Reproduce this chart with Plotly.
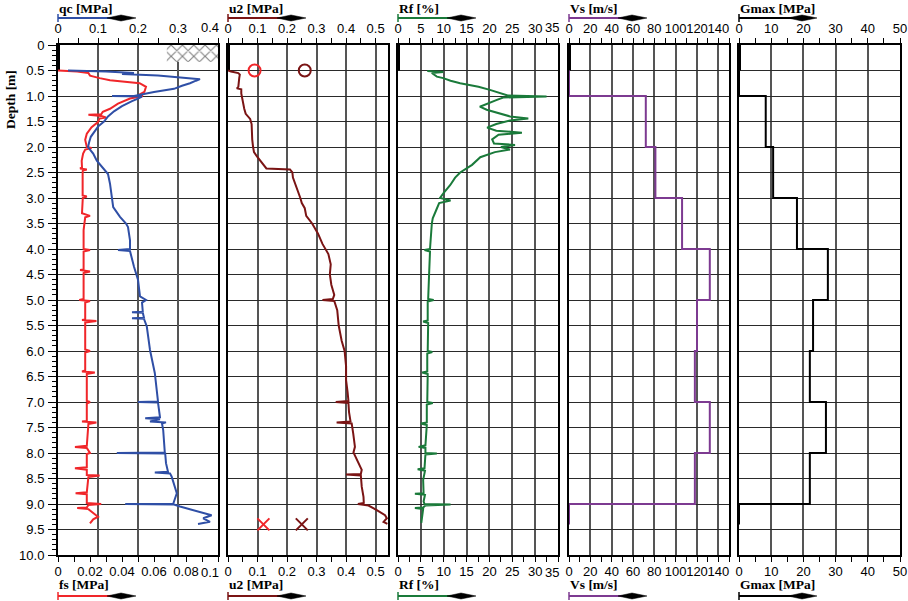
import plotly.graph_objects as go

W, H = 908, 601

# ---------------- data ----------------
qc_depth = [0.50, 0.52, 0.55, 0.57, 0.60, 0.64, 0.67, 0.70, 0.75, 0.80, 0.86, 0.92, 0.97, 1.00, 1.00, 1.01,
            1.05, 1.10, 1.20, 1.30, 1.40, 1.45, 1.50, 1.60, 1.70, 1.80, 1.90, 2.00, 2.05, 2.13, 2.27, 2.40,
            2.53, 2.72, 2.98, 3.18, 3.37, 3.50, 3.57, 3.83, 4.00, 4.02, 4.04, 4.20, 4.35, 4.60, 4.93, 5.00,
            5.05, 5.23, 5.24, 5.25, 5.35, 5.36, 5.37, 5.52, 5.98, 6.43, 6.76, 6.99, 7.00, 7.01, 7.30, 7.32,
            7.34, 7.38, 7.40, 7.42, 7.55, 7.88, 7.99, 8.00, 8.01, 8.20, 8.37, 8.38, 8.40, 8.46, 8.79, 8.95,
            9.00, 9.00, 9.01, 9.05, 9.10, 9.15, 9.22, 9.28, 9.35, 9.39]
qc_mpa = [0.025, 0.12, 0.19, 0.16, 0.25, 0.32, 0.355, 0.345, 0.33, 0.31, 0.29, 0.24, 0.205, 0.19, 0.135, 0.21,
          0.20, 0.185, 0.16, 0.14, 0.125, 0.12, 0.115, 0.10, 0.09, 0.082, 0.078, 0.075, 0.08, 0.088, 0.097, 0.11,
          0.125, 0.13, 0.135, 0.138, 0.155, 0.17, 0.175, 0.18, 0.18, 0.15, 0.18, 0.185, 0.19, 0.20, 0.205, 0.22,
          0.21, 0.212, 0.185, 0.212, 0.215, 0.185, 0.215, 0.222, 0.23, 0.242, 0.247, 0.25, 0.20, 0.25, 0.255, 0.218,
          0.255, 0.23, 0.27, 0.26, 0.263, 0.267, 0.267, 0.147, 0.268, 0.27, 0.275, 0.242, 0.28, 0.284, 0.297, 0.29,
          0.288, 0.168, 0.29, 0.305, 0.33, 0.355, 0.384, 0.363, 0.38, 0.35]

fs_depth = [0.50, 0.52, 0.55, 0.60, 0.65, 0.69, 0.75, 0.82, 0.92, 0.97, 1.00, 1.02, 1.05, 1.15, 1.25, 1.31,
            1.36, 1.37, 1.39, 1.42, 1.44, 1.51, 1.61, 1.74, 1.86, 2.00, 2.02, 2.05, 2.13, 2.27, 2.40, 2.42,
            2.44, 2.46, 2.53, 2.95, 2.97, 3.00, 3.30, 3.35, 3.38, 3.63, 4.00, 4.02, 4.05, 4.40, 4.41, 4.44,
            4.47, 4.98, 5.00, 5.02, 5.05, 5.38, 5.39, 5.41, 5.44, 5.97, 6.00, 6.03, 6.38, 6.40, 6.42, 6.45,
            6.98, 7.00, 7.03, 7.37, 7.38, 7.40, 7.43, 7.86, 7.88, 7.90, 8.00, 8.02, 8.28, 8.30, 8.33, 8.43,
            8.44, 8.47, 8.77, 8.79, 8.81, 8.98, 9.00, 9.02, 9.07, 9.08, 9.10, 9.25, 9.30, 9.38]
fs_mpa = [0.0, 0.012, 0.019, 0.020, 0.026, 0.0325, 0.051, 0.055, 0.054, 0.051, 0.053, 0.049, 0.045, 0.0375, 0.0325, 0.028,
          0.027, 0.019, 0.027, 0.030, 0.026, 0.025, 0.021, 0.018, 0.017, 0.018, 0.021, 0.017, 0.0157, 0.0148, 0.015, 0.0138,
          0.018, 0.0155, 0.0154, 0.0154, 0.018, 0.0155, 0.015, 0.020, 0.017, 0.016, 0.016, 0.020, 0.016, 0.016, 0.0138, 0.020,
          0.016, 0.016, 0.0133, 0.020, 0.017, 0.017, 0.015, 0.024, 0.017, 0.017, 0.020, 0.017, 0.017, 0.015, 0.023, 0.018,
          0.018, 0.020, 0.018, 0.018, 0.015, 0.024, 0.019, 0.018, 0.0106, 0.018, 0.020, 0.018, 0.018, 0.0106, 0.018, 0.018,
          0.026, 0.019, 0.018, 0.011, 0.018, 0.018, 0.027, 0.019, 0.018, 0.012, 0.019, 0.025, 0.022, 0.020]

u2_depth = [0.50, 0.52, 0.55, 0.58, 0.65, 0.75, 0.82, 0.85, 0.87, 0.95, 1.05, 1.15, 1.25, 1.35, 1.45, 1.55,
            1.70, 1.85, 2.00, 2.10, 2.20, 2.30, 2.38, 2.42, 2.44, 2.50, 2.60, 2.75, 2.90, 3.00, 3.10, 3.20,
            3.35, 3.50, 3.70, 3.90, 4.10, 4.30, 4.50, 4.70, 4.90, 4.98, 5.00, 5.02, 5.20, 5.50, 5.80, 6.00,
            6.30, 6.57, 6.80, 6.98, 7.00, 7.02, 7.20, 7.38, 7.40, 7.42, 7.61, 7.88, 7.99, 8.20, 8.33, 8.41,
            8.42, 8.44, 8.66, 8.86, 8.98, 9.00, 9.03, 9.12, 9.22, 9.28, 9.35, 9.39]
u2_mpa = [0.0, 0.01, 0.035, 0.04, 0.038, 0.036, 0.035, 0.03, 0.045, 0.045, 0.048, 0.05, 0.055, 0.06, 0.075, 0.08,
          0.08, 0.082, 0.085, 0.088, 0.10, 0.115, 0.125, 0.13, 0.21, 0.218, 0.22, 0.23, 0.24, 0.245, 0.25, 0.26,
          0.265, 0.285, 0.305, 0.32, 0.34, 0.348, 0.345, 0.35, 0.36, 0.355, 0.32, 0.36, 0.37, 0.375, 0.385, 0.395,
          0.40, 0.40, 0.405, 0.408, 0.365, 0.408, 0.41, 0.415, 0.368, 0.419, 0.424, 0.43, 0.425, 0.442, 0.453, 0.45,
          0.40, 0.45, 0.453, 0.459, 0.46, 0.44, 0.476, 0.504, 0.532, 0.538, 0.527, 0.54]

rf_depth = [0.51, 0.53, 0.55, 0.58, 0.62, 0.65, 0.70, 0.75, 0.82, 0.88, 0.95, 0.99, 1.01, 1.03, 1.08, 1.14,
            1.21, 1.27, 1.34, 1.40, 1.44, 1.48, 1.55, 1.62, 1.68, 1.72, 1.76, 1.85, 1.93, 1.96, 2.00, 2.05,
            2.10, 2.20, 2.35, 2.50, 2.60, 2.75, 2.90, 3.00, 3.05, 3.10, 3.25, 3.40, 3.50, 3.75, 4.00, 4.02,
            4.05, 4.50, 4.98, 5.00, 5.03, 5.40, 5.42, 5.45, 6.00, 6.02, 6.05, 6.40, 6.42, 6.45, 7.00, 7.02,
            7.05, 7.40, 7.42, 7.45, 7.85, 7.88, 7.90, 8.00, 8.01, 8.03, 8.30, 8.32, 8.35, 8.53, 8.79, 8.80,
            8.82, 8.95, 9.00, 9.01, 9.03, 9.07, 9.08, 9.10, 9.20, 9.28, 9.37]
rf_pct = [6.4, 9.9, 7.4, 7.9, 8.5, 9.9, 11.5, 13.6, 17.6, 20.1, 22.7, 24.0, 32.5, 23.0, 21.5, 19.8,
          17.9, 19.4, 22.3, 24.5, 28.5, 24.5, 21.5, 19.5, 21.5, 27.1, 22.0, 20.6, 21.0, 25.6, 22.5, 24.5,
          21.2, 18.0, 16.2, 13.6, 12.5, 11.4, 10.0, 9.2, 11.5, 9.0, 8.3, 7.6, 7.4, 7.2, 7.0, 5.8,
          7.0, 6.8, 6.6, 7.8, 6.5, 6.5, 5.5, 6.6, 6.5, 7.5, 6.4, 6.4, 5.3, 6.5, 6.4, 7.6,
          6.3, 6.3, 5.0, 6.3, 6.0, 4.5, 6.0, 6.0, 8.5, 6.0, 5.8, 4.3, 5.9, 5.5, 5.6, 3.7,
          5.9, 5.6, 5.8, 11.5, 6.0, 5.5, 3.7, 5.5, 5.3, 5.2, 5.1]

vs_depth = [0.5, 1.0, 2.0, 3.0, 4.0, 5.0, 6.0, 7.0, 8.0, 9.0, 9.4]
vs_ms = [0, 72, 81, 106, 132, 120, 118, 132, 118, 0, 0]

gmax_depth = [0.5, 1.0, 2.0, 3.0, 4.0, 5.0, 6.0, 7.0, 8.0, 9.0, 9.4]
gmax_mpa = [0, 8.3, 10.6, 18.0, 27.6, 23.0, 22.0, 27.0, 22.0, 0, 0]

predrill_depth = [0.0, 0.5]
predrill_value = [0, 0]

u2_circle_depth = [0.5, 0.5]
u2_circle_val = [0.09, 0.26]
u2_cross_depth = [9.4, 9.4]
u2_cross_val = [0.12, 0.25]

hatch_qc = [0.272, 0.40]
hatch_depth = [0.0, 0.33]

depth_ticks = [i * 0.5 for i in range(21)]
depth_labels = ["0"] + ["%.1f" % d for d in depth_ticks[1:]]

qc_ticks = [0, 0.1, 0.2, 0.3, 0.4]
qc_labels = ["0", "0.1", "0.2", "0.3", "0.4"]
fs_ticks = [0, 0.02, 0.04, 0.06, 0.08, 0.1]
fs_labels = ["0", "0.02", "0.04", "0.06", "0.08", "0.1"]
u2_ticks = [0, 0.1, 0.2, 0.3, 0.4, 0.5]
u2_labels = ["0", "0.1", "0.2", "0.3", "0.4", "0.5"]
rf_ticks = [0, 5, 10, 15, 20, 25, 30, 35]
rf_labels = ["0", "5", "10", "15", "20", "25", "30", "35"]
vs_ticks = [0, 20, 40, 60, 80, 100, 120, 140]
vs_labels = ["0", "20", "40", "60", "80", "100", "120", "140"]
g_ticks = [0, 10, 20, 30, 40, 50]
g_labels = ["0", "10", "20", "30", "40", "50"]

# ---------------- styling / layout helpers ----------------
C_QC = "#2F4FA6"
C_FS = "#F0262A"
C_U2 = "#7A1414"
C_U2B = "#F0262A"
C_RF = "#1A7A3A"
C_VS = "#7D3A91"
C_G = "#000000"

TICKFONT = dict(family="Liberation Sans, Arial, sans-serif", size=13, color="black")
TITLEFONT = dict(family="Liberation Serif, Times New Roman, serif", size=13.5, color="black")

panels_px = [(58, 218), (228, 388), (398, 558), (569, 729), (739, 900)]
Y_TOP, Y_BOT = 45, 555
TOP_LABEL_Y, BOT_LABEL_Y = 28, 572


def fx(p):
    return p / W


def fy(p):
    return 1 - p / H


ydom = [fy(Y_BOT), fy(Y_TOP)]

# bottom: title, colour, range, ticks, labels, minor ; top: same ; last label right-aligned?
panel_axes = [
    ("fs [MPa]", C_FS, [0, 0.1], fs_ticks, fs_labels, 0.01,
     "qc [MPa]", C_QC, [0, 0.4], qc_ticks, qc_labels, 0.05, True),
    ("u2 [MPa]", C_U2, [0, 0.542], u2_ticks, u2_labels, 0.05,
     "u2 [MPa]", C_U2, [0, 0.542], u2_ticks, u2_labels, 0.05, False),
    ("Rf [%]", C_RF, [0, 35], rf_ticks, rf_labels, 2.5,
     "Rf [%]", C_RF, [0, 35], rf_ticks, rf_labels, 2.5, True),
    ("Vs [m/s]", C_VS, [0, 150], vs_ticks, vs_labels, 10,
     "Vs [m/s]", C_VS, [0, 150], vs_ticks, vs_labels, 10, False),
    ("Gmax [MPa]", C_G, [0, 50], g_ticks, g_labels, 5,
     "Gmax [MPa]", C_G, [0, 50], g_ticks, g_labels, 5, False),
]

fig = go.Figure()
layout = dict(
    width=W, height=H, margin=dict(l=0, r=0, t=0, b=0, autoexpand=False),
    plot_bgcolor="white", paper_bgcolor="white", showlegend=False,
)

VGRID = "#555555"
shapes = []
annotations = []

for k, ((l, r), ax) in enumerate(zip(panels_px, panel_axes)):
    bt, bc, br, bticks, blabels, bm, tt, tc, tr, tticks, tlabels, tm, edge = ax
    xb = "xaxis" if k == 0 else "xaxis%d" % (2 * k + 1)
    xt = "xaxis%d" % (2 * k + 2)
    yname = "yaxis" if k == 0 else "yaxis%d" % (k + 1)
    yref = "y" if k == 0 else "y%d" % (k + 1)
    xbref = "x" if k == 0 else "x%d" % (2 * k + 1)
    xtref = "x%d" % (2 * k + 2)
    dom = [fx(l), fx(r)]

    bvals, tvals = list(bticks), list(tticks)
    btext, ttext = list(blabels), list(tlabels)
    if edge:
        # the label on the panel edge is drawn right-aligned at the panel edge
        for lab, ly in ((blabels[-1], BOT_LABEL_Y), (tlabels[-1], TOP_LABEL_Y)):
            annotations.append(dict(x=fx(r + 3), y=fy(ly), xref="paper", yref="paper", text=lab,
                                    showarrow=False, xanchor="right", yanchor="middle",
                                    font=TICKFONT))
        btext[-1] = " "
        ttext[-1] = " "

    common = dict(type="linear", zeroline=False, showline=True, linecolor="black", linewidth=2,
                  automargin=False, ticks="outside", ticklen=5, tickwidth=1, tickcolor="black",
                  tickfont=TICKFONT, tickangle=0, tickmode="array")
    layout[xb] = dict(
        domain=dom, range=br, anchor=yref, side="bottom", tickvals=bvals, ticktext=btext,
        showgrid=(k > 0), gridcolor=VGRID, gridwidth=1.8, ticklabelstandoff=-2,
        minor=dict(dtick=bm, tick0=0, ticks="outside", ticklen=5, tickcolor="black", showgrid=False),
        **common,
    )
    layout[xt] = dict(
        domain=dom, range=tr, overlaying=xbref, anchor=yref, side="top", tickvals=tvals, ticktext=ttext,
        showgrid=(k == 0), gridcolor=VGRID, gridwidth=1.8, ticklabelstandoff=0,
        minor=dict(dtick=tm, tick0=0, ticks="outside", ticklen=5, tickcolor="black", showgrid=False),
        **common,
    )
    ya = dict(
        type="linear", domain=ydom, range=[10, 0], anchor=xbref, tickmode="array", tickvals=depth_ticks,
        showgrid=True, gridcolor="#2a2a2a", gridwidth=1.3, zeroline=False, automargin=False,
        showline=True, mirror=True, linecolor="black", linewidth=2,
    )
    if k == 0:
        ya.update(ticktext=depth_labels, ticks="outside", ticklen=8, tickcolor="black",
                  tickfont=TICKFONT, showticklabels=True, ticklabelstandoff=1,
                  minor=dict(tickmode="linear", tick0=0, dtick=0.1, ticks="outside",
                             ticklen=4, tickcolor="black", showgrid=False))
    else:
        ya.update(showticklabels=False, ticks="", matches="y")
    layout[yname] = ya

    # titles + arrows (top and bottom)
    for (title, col, ty, ay) in ((tt, tc, 9, 18), (bt, bc, 584, 596)):
        annotations.append(dict(
            x=fx(l - 1), y=fy(ty), xref="paper", yref="paper", text="<b>%s</b>" % title,
            showarrow=False, xanchor="left", yanchor="middle", font=TITLEFONT))
        shapes.append(dict(type="line", xref="paper", yref="paper",
                           x0=fx(l), x1=fx(l + 70), y0=fy(ay), y1=fy(ay),
                           line=dict(color=col, width=2)))
        shapes.append(dict(type="line", xref="paper", yref="paper",
                           x0=fx(l), x1=fx(l), y0=fy(ay - 4), y1=fy(ay + 4),
                           line=dict(color=col, width=1.5)))
        path = "M %f,%f L %f,%f L %f,%f L %f,%f Z" % (
            fx(l + 49), fy(ay), fx(l + 63), fy(ay - 3), fx(l + 78), fy(ay), fx(l + 63), fy(ay + 3))
        shapes.append(dict(type="path", xref="paper", yref="paper", path=path,
                           fillcolor="black", line=dict(color="black", width=0.5)))

    # pre-drilled section marker
    fig.add_trace(go.Scatter(x=predrill_value, y=predrill_depth, mode="lines",
                             line=dict(color="black", width=4), xaxis=xbref, yaxis=yref,
                             hoverinfo="skip"))
    # invisible companion trace so the top axis of the panel is rendered with its labels
    fig.add_trace(go.Scatter(x=predrill_value, y=predrill_depth, mode="lines",
                             line=dict(color="rgba(0,0,0,0)", width=0), xaxis=xtref, yaxis=yref,
                             hoverinfo="skip"))

annotations.append(dict(x=fx(11), y=fy(100), xref="paper", yref="paper",
                        text="<b>Depth [m]</b>", textangle=-90, showarrow=False,
                        xanchor="center", yanchor="middle", font=TITLEFONT))

layout["shapes"] = shapes
layout["annotations"] = annotations
fig.update_layout(**layout)

# hatch symbol in panel 1
hx0, hx1 = hatch_qc
hd0, hd1 = hatch_depth
fig.add_trace(go.Scatter(
    x=[hx0, hx1, hx1, hx0, hx0], y=[hd0, hd0, hd1, hd1, hd0], mode="lines",
    line=dict(width=0), fill="toself", fillcolor="white",
    fillpattern=dict(shape="x", size=8, solidity=0.25, fgcolor="black", bgcolor="white"),
    xaxis="x2", yaxis="y", hoverinfo="skip"))

# data curves
fig.add_trace(go.Scatter(x=fs_mpa, y=fs_depth, mode="lines", line=dict(color=C_FS, width=2),
                         xaxis="x", yaxis="y", name="fs"))
fig.add_trace(go.Scatter(x=qc_mpa, y=qc_depth, mode="lines", line=dict(color=C_QC, width=2),
                         xaxis="x2", yaxis="y", name="qc"))
fig.add_trace(go.Scatter(x=u2_mpa, y=u2_depth, mode="lines", line=dict(color=C_U2, width=2),
                         xaxis="x3", yaxis="y2", name="u2"))
fig.add_trace(go.Scatter(x=u2_circle_val, y=u2_circle_depth, mode="markers",
                         marker=dict(symbol="circle-open", size=12, color=[C_U2B, C_U2],
                                     line=dict(width=2, color=[C_U2B, C_U2])),
                         xaxis="x3", yaxis="y2", name="u0"))
fig.add_trace(go.Scatter(x=u2_cross_val, y=u2_cross_depth, mode="markers",
                         marker=dict(symbol="x-thin-open", size=12, color=[C_U2B, C_U2],
                                     line=dict(width=2, color=[C_U2B, C_U2])),
                         xaxis="x3", yaxis="y2", name="u2 end"))
fig.add_trace(go.Scatter(x=rf_pct, y=rf_depth, mode="lines", line=dict(color=C_RF, width=2),
                         xaxis="x5", yaxis="y3", name="Rf"))
fig.add_trace(go.Scatter(x=vs_ms, y=vs_depth, mode="lines", line=dict(color=C_VS, width=2, shape="vh"),
                         xaxis="x7", yaxis="y4", name="Vs"))
fig.add_trace(go.Scatter(x=gmax_mpa, y=gmax_depth, mode="lines", line=dict(color=C_G, width=2, shape="vh"),
                         xaxis="x9", yaxis="y5", name="Gmax"))

# remove the default page margin so the 908x601 figure fills the window exactly
fig.write_html("out.html", config={"displayModeBar": False},
               post_script="document.body.style.margin='0';document.body.style.overflow='hidden';")
